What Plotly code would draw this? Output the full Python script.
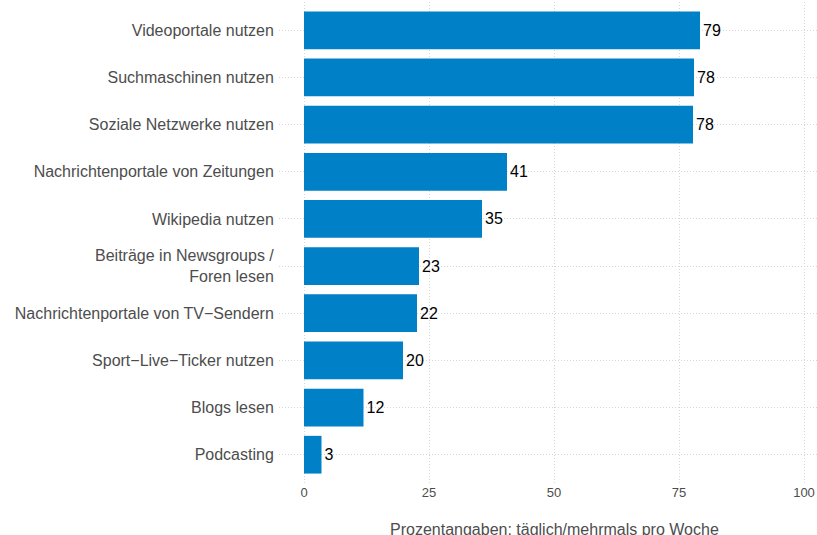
import plotly.graph_objects as go

categories = [
    "Videoportale nutzen",
    "Suchmaschinen nutzen",
    "Soziale Netzwerke nutzen",
    "Nachrichtenportale von Zeitungen",
    "Wikipedia nutzen",
    "Beiträge in Newsgroups /<br>Foren lesen",
    "Nachrichtenportale von TV\u2212Sendern",
    "Sport\u2212Live\u2212Ticker nutzen",
    "Blogs lesen",
    "Podcasting",
]
values = [79.2, 78.0, 77.8, 40.6, 35.6, 23.0, 22.6, 19.8, 11.9, 3.5]
value_labels = ["79", "78", "78", "41", "35", "23", "22", "20", "12", "3"]
x_ticks = [0, 25, 50, 75, 100]
x_title = "Prozentangaben: täglich/mehrmals pro Woche"

W, H = 817, 535
L, R, T, B = 279, 0, 2, 52
FONT = "Liberation Sans, Arial, Helvetica, sans-serif"

fig = go.Figure(
    go.Bar(
        x=values,
        y=categories,
        orientation="h",
        width=0.8,
        marker=dict(color="#0080C6", line=dict(width=0)),
        text=value_labels,
        textposition="outside",
        textfont=dict(family=FONT, size=16, color="#000000"),
        cliponaxis=False,
        hoverinfo="skip",
    )
)

fig.update_layout(
    width=W,
    height=H,
    margin=dict(l=L, r=R, t=T, b=B, pad=0, autoexpand=False),
    paper_bgcolor="white",
    plot_bgcolor="white",
    showlegend=False,
    font=dict(family=FONT, color="#4D4D4D"),
    xaxis=dict(
        range=[-5, 102.6],
        tickvals=x_ticks,
        ticktext=[str(v) for v in x_ticks],
        tickfont=dict(size=13, color="#4D4D4D"),
        showgrid=True,
        gridcolor="#D6D6D6",
        gridwidth=1,
        griddash="1px,2px",
        zeroline=False,
        showline=False,
        ticks="",
        ticklabeloverflow="allow",
        automargin=False,
        fixedrange=True,
    ),
    yaxis=dict(
        type="category",
        categoryorder="array",
        categoryarray=categories,
        range=[9.6, -0.6],
        tickfont=dict(size=16, color="#4D4D4D"),
        showgrid=True,
        gridcolor="#D6D6D6",
        gridwidth=1,
        griddash="1px,2px",
        zeroline=False,
        showline=False,
        ticks="outside",
        ticklen=1,
        tickcolor="rgba(0,0,0,0)",
        automargin=False,
        fixedrange=True,
    ),
    annotations=[
        dict(
            text=x_title,
            xref="paper",
            yref="paper",
            x=(554 - L) / (W - L - R),
            y=-(519 - (H - B)) / (H - T - B),
            xanchor="center",
            yanchor="top",
            showarrow=False,
            font=dict(family=FONT, size=16, color="#4D4D4D"),
        )
    ],
)

fig.write_html(
    "out.html",
    config={"displayModeBar": False},
    post_script="document.body.style.margin='0';document.body.style.overflow='hidden';",
)
